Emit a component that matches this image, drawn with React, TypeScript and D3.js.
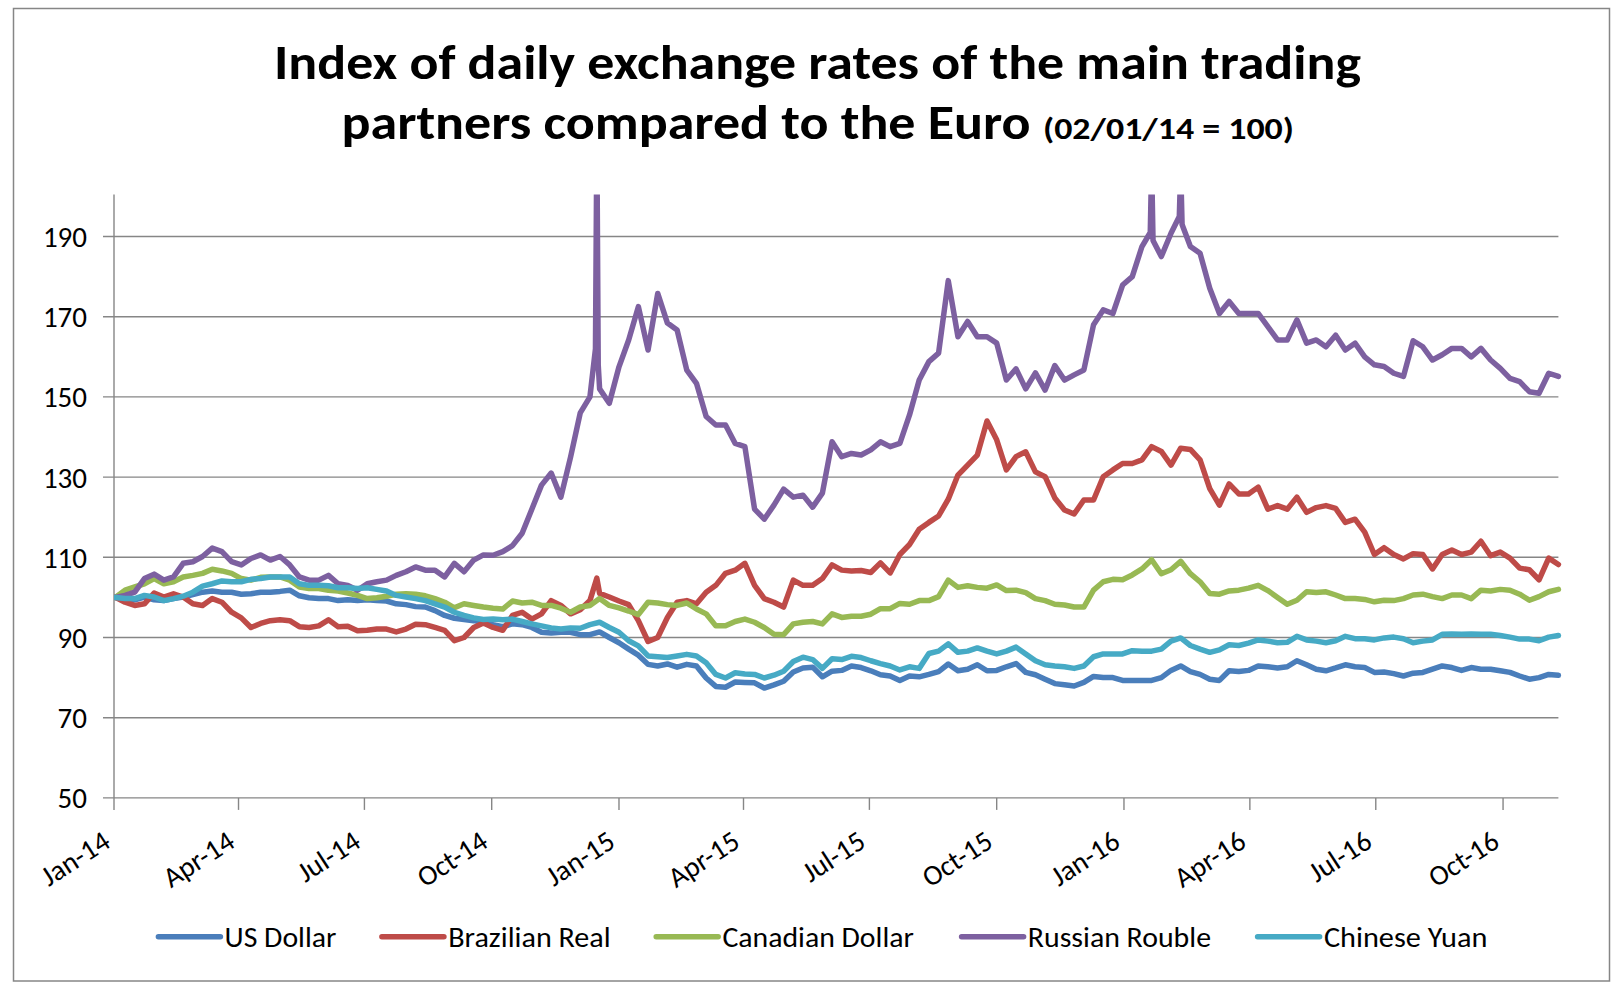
import React from "react";
import * as d3 from "d3";

// ---- data (weekly samples starting 2 Jan 2014, index 02/01/14 = 100) ----
const START_DATE = "2014-01-02";
const STEP_DAYS = 7;

const seriesNames = ["US Dollar", "Brazilian Real", "Canadian Dollar", "Russian Rouble", "Chinese Yuan"];
const seriesColors = ["#4A7EBB", "#BE4B48", "#98B954", "#7D60A0", "#46AAC5"];

const usDollar = [
  100, 99.3, 99.4, 100.1, 99.4, 99.2, 99.7, 100.1, 100.7, 101.3, 101.6, 101.3, 101.3, 100.8, 100.9, 101.3, 101.3, 101.5, 101.8, 100.4,
  99.9, 99.7, 99.7, 99.2, 99.4, 99.2, 99.4, 99.2, 99.1, 98.4, 98.2, 97.7, 97.6, 96.7, 95.5, 94.8, 94.5, 94.2, 93.8,
  93.2, 92.7, 93.4, 93.2, 92.5, 91.3, 91.1, 91.3, 91.3, 90.7, 90.7, 91.4, 90.0, 88.7, 87.1, 85.6, 83.3, 82.9, 83.4, 82.6,
  83.3, 82.9, 79.9, 77.8, 77.6, 78.9, 78.8, 78.7, 77.4, 78.2, 79.1, 81.4, 82.4, 82.6, 80.2, 81.6, 81.8, 82.9,
  82.5, 81.7, 80.7, 80.4, 79.3, 80.4, 80.2, 80.8, 81.5, 83.4, 81.7, 82.1, 83.2, 81.7, 81.8, 82.7, 83.5, 81.3, 80.7, 79.6,
  78.5, 78.2, 77.9, 78.8, 80.3, 80.0, 80.0, 79.3, 79.3, 79.3, 79.3, 80.0, 81.8, 82.9, 81.5, 80.8,
  79.6, 79.3, 81.7, 81.5, 81.8, 82.9, 82.7, 82.4, 82.7, 84.2, 83.2, 82.1, 81.7, 82.4, 83.2, 82.7, 82.5, 81.3, 81.4, 81.0,
  80.4, 81.1, 81.3, 82.1, 82.9, 82.5, 81.8, 82.5, 82.1, 82.1, 81.7, 81.3, 80.4, 79.6, 80.0, 80.8, 80.6,
];

const brazilianReal = [
  100, 98.8, 98.0, 98.4, 101.1, 100.1, 100.9, 100.1, 98.4, 98.0, 99.7, 98.8, 96.3, 94.9, 92.5, 93.5, 94.2, 94.4, 94.2, 92.7,
  92.5, 92.9, 94.4, 92.7, 92.8, 91.7, 91.8, 92.1, 92.1, 91.4, 92.1, 93.3, 93.2, 92.5, 91.8, 89.2, 90.0, 92.5, 93.6,
  92.5, 91.8, 95.5, 96.3, 94.6, 95.9, 99.2, 98.0, 95.9, 96.9, 99.2, 101.0, 100.1, 99.1, 98.2, 94.2, 89.0, 90.0, 95.0, 98.8,
  99.2, 98.4, 101.3, 103.0, 106.0, 106.8, 108.5, 103.0, 99.7, 98.8, 97.6, 104.3, 103.0, 103.0, 104.7, 108.1, 106.8, 106.6,
  106.7, 106.2, 108.6, 106.1, 110.7, 113.2, 117.0, 118.7, 120.3, 124.5, 130.5, 133.0, 135.5, 144.0, 139.3, 131.8, 135.1, 136.3,
  131.3, 130.1, 124.8, 121.8, 120.8, 124.3, 124.3, 130.1, 131.8, 133.4, 133.4, 134.3, 137.6, 136.4, 133.0, 137.2, 136.9, 134.3,
  127.1, 123.0, 128.3, 125.8, 125.8, 127.5, 122.0, 122.9, 122.0, 125.0, 121.2, 122.4, 122.9, 122.2, 118.7, 119.5, 116.3, 110.7,
  112.4, 110.7, 109.6, 110.9, 110.7, 107.1, 110.7, 111.8, 110.7, 111.3, 114.0, 110.4, 111.3, 109.8, 107.3, 106.9, 104.4, 109.8, 108.2,
];

const canadianDollar = [
  100, 101.8, 102.6, 103.4, 104.7, 103.4, 103.9, 105.1, 105.5, 106.0, 107.0, 106.6, 106.0, 104.7, 104.3, 105.0, 105.1, 105.1, 104.3, 102.6,
  102.2, 102.2, 101.8, 101.6, 101.1, 100.5, 99.7, 99.9, 100.3, 100.8, 100.9, 100.8, 100.4, 99.7, 98.8, 97.4, 98.4, 98.0, 97.6,
  97.3, 97.1, 99.1, 98.6, 98.8, 98.0, 98.0, 97.3, 96.3, 97.6, 98.0, 99.7, 98.0, 97.4, 96.6, 95.7, 98.8, 98.6, 98.2, 98.0,
  98.6, 97.1, 95.9, 92.9, 92.9, 94.0, 94.6, 93.8, 92.5, 90.8, 90.7, 93.4, 93.8, 94.0, 93.4, 95.9, 95.0, 95.3,
  95.3, 95.8, 97.2, 97.2, 98.5, 98.3, 99.2, 99.2, 100.2, 104.3, 102.5, 102.9, 102.5, 102.3, 103.1, 101.7, 101.8, 101.2, 99.7, 99.2,
  98.3, 98.1, 97.6, 97.6, 101.8, 103.9, 104.5, 104.4, 105.6, 107.1, 109.4, 105.9, 106.9, 109.0, 105.9, 103.9,
  101.0, 100.8, 101.6, 101.8, 102.3, 103.0, 101.7, 100.0, 98.3, 99.3, 101.4, 101.2, 101.4, 100.6, 99.7, 99.7, 99.5, 98.9, 99.3, 99.2,
  99.7, 100.6, 100.8, 100.2, 99.7, 100.6, 100.6, 99.7, 101.8, 101.6, 102.0, 101.8, 100.8, 99.3, 100.2, 101.4, 102.0,
];

const russianRouble = [
  100, 100.5, 101.3, 104.7, 105.8, 104.3, 105.1, 108.5, 108.9, 110.2, 112.3, 111.4, 108.9, 108.1, 109.7, 110.6, 109.3, 110.2, 108.1, 105.1,
  104.3, 104.3, 105.5, 103.4, 103.0, 101.8, 103.4, 103.9, 104.3, 105.5, 106.4, 107.6, 106.8, 106.8, 105.1, 108.5, 106.4, 109.3, 110.6,
  110.5, 111.4, 112.9, 116.0, 122.0, 128.0, 131.0, 125.0, 135.0, 146.0, 150.0, 152.0,
  148.4, 157.5, 164.2, 172.5, 161.7, 175.8, 168.4, 166.7, 156.7, 153.4, 145.1, 143.0, 143.0, 138.4, 137.6, 122.0, 119.5, 123.0, 127.0, 125.0,
  125.5, 122.5, 126.0,
  138.8, 135.1, 135.9, 135.5, 136.8, 138.8, 137.6, 138.4, 145.5, 154.2, 158.8, 160.9, 179.0, 165.0, 168.8, 165.0, 165.0, 163.4, 154.2, 157.0,
  152.0, 156.0, 151.7,
  157.8, 154.2, 155.5, 156.7, 168.0, 171.7, 170.8, 177.9, 180.0, 187.5, 208.0, 185.0, 190.8, 207.0, 187.5, 185.8, 177.1, 170.8, 173.8, 170.8,
  170.8, 170.8, 167.5, 164.2, 164.2, 169.2, 163.4, 164.2, 162.5, 165.4, 161.7, 163.4, 160.0, 158.0, 157.6, 155.9, 155.1, 164.0, 162.5, 159.2,
  160.5, 162.1, 162.1, 160.0, 162.1, 159.2, 157.1, 154.6, 153.8, 151.3, 150.9, 155.9, 155.1,
];

const chineseYuan = [
  100, 99.7, 99.7, 100.5, 100.1, 99.2, 99.7, 100.3, 101.3, 102.8, 103.4, 104.1, 103.9, 103.9, 104.5, 104.7, 105.1, 105.1, 105.1, 103.4,
  103.0, 103.0, 102.9, 102.4, 102.4, 102.2, 102.4, 102.0, 101.6, 100.5, 100.1, 99.7, 99.2, 98.4, 97.6, 96.3, 95.5, 94.9, 94.5,
  94.6, 94.4, 94.6, 94.0, 93.4, 92.9, 92.4, 92.1, 92.4, 92.3, 93.2, 93.8, 92.5, 91.3, 89.2, 87.9, 85.4, 85.2, 85.0, 85.4,
  85.8, 85.4, 83.7, 80.8, 79.9, 81.2, 80.9, 80.8, 79.9, 80.6, 81.6, 84.0, 85.1, 84.5, 82.3, 84.7, 84.5, 85.3,
  85.0, 84.2, 83.5, 82.9, 81.9, 82.7, 82.3, 86.0, 86.6, 88.4, 86.3, 86.6, 87.4, 86.6, 85.9, 86.6, 87.6, 85.9, 84.2, 83.2,
  82.9, 82.7, 82.3, 82.9, 85.2, 85.9, 85.9, 85.9, 86.7, 86.6, 86.6, 87.1, 89.1, 89.9, 88.0, 87.1,
  86.3, 86.9, 88.2, 88.0, 88.6, 89.4, 89.1, 88.7, 88.8, 90.3, 89.4, 89.1, 88.7, 89.2, 90.3, 89.7, 89.7, 89.4, 89.9, 90.1,
  89.7, 88.7, 89.1, 89.4, 90.8, 90.9, 90.8, 90.9, 90.8, 90.8, 90.5, 90.1, 89.6, 89.6, 89.2, 90.1, 90.5,
];

// extra daily readings around single-day spikes (date, value)
const russianRoubleDaily: [string, number][] = [
  ["2014-12-15", 162],
  ["2014-12-16", 215],
  ["2014-12-17", 158],
  ["2016-01-20", 191],
  ["2016-01-22", 189],
  ["2016-02-10", 195],
  ["2016-02-12", 193],
];
const brazilianRealDaily: [string, number][] = [
  ["2014-12-16", 104.8],
];
const extraDaily: [string, number][][] = [[], brazilianRealDaily, [], russianRoubleDaily, []];

const yTicks = [50, 70, 90, 110, 130, 150, 170, 190];
const xTickDates = ["2014-01-01", "2014-04-01", "2014-07-01", "2014-10-01", "2015-01-01", "2015-04-01", "2015-07-01", "2015-10-01", "2016-01-01", "2016-04-01", "2016-07-01", "2016-10-01"];
const xTickLabels = ["Jan-14", "Apr-14", "Jul-14", "Oct-14", "Jan-15", "Apr-15", "Jul-15", "Oct-15", "Jan-16", "Apr-16", "Jul-16", "Oct-16"];
const X_DOMAIN = ["2014-01-01", "2016-11-10"];

const allSeries = [usDollar, brazilianReal, canadianDollar, russianRouble, chineseYuan];

// ---- layout ----
const W = 1623;
const H = 987;
const PLOT = { left: 114, right: 1558.4, top: 196.4, bottom: 797.9 };
const FONT = "Carlito, Calibri, Lato, 'Open Sans', sans-serif";
const GRID = "#868686";

export default function App() {
  const parse = d3.utcParse("%Y-%m-%d");
  const start = parse(START_DATE) as Date;
  const x = d3
    .scaleUtc()
    .domain(X_DOMAIN.map((d) => parse(d) as Date))
    .range([PLOT.left, PLOT.right]);
  const y = d3.scaleLinear().domain([50, 200]).range([PLOT.bottom, PLOT.top]);

  const pointsFor = (i: number) => {
    const pts: { date: Date; value: number }[] = allSeries[i].map((v, k) => ({
      date: d3.utcDay.offset(start, k * STEP_DAYS),
      value: v,
    }));
    extraDaily[i].forEach(([d, v]) => pts.push({ date: parse(d) as Date, value: v }));
    pts.sort((a, b) => +a.date - +b.date);
    return pts;
  };

  const line = d3
    .line<{ date: Date; value: number }>()
    .x((d) => x(d.date))
    .y((d) => y(d.value));

  const legendItems = [
    { lx: 158.4, tx: 224.6, tw: 111.8 },
    { lx: 381.9, tx: 448.2, tw: 162.5 },
    { lx: 656.2, tx: 722.4, tw: 191.5 },
    { lx: 961.6, tx: 1027.8, tw: 183.2 },
    { lx: 1257.6, tx: 1323.9, tw: 163.5 },
  ];

  return (
    <svg
      width={W}
      height={H}
      style={{ position: "absolute", left: 0, top: 0, background: "#fff" }}
      fontFamily={FONT}
    >
      <rect x={0} y={0} width={W} height={H} fill="#fff" />
      <rect x={13.5} y={8.5} width={1596} height={972.5} fill="#fff" stroke={GRID} strokeWidth={1.5} />

      {/* title */}
      <text x={274} y={78.5} fontSize={49} fontWeight="bold" fill="#000" textLength={1087} lengthAdjust="spacingAndGlyphs">
        Index of daily exchange rates of the main trading
      </text>
      <text x={341.6} y={138.5} fontSize={49} fontWeight="bold" fill="#000" textLength={689} lengthAdjust="spacingAndGlyphs">
        partners compared to the Euro
      </text>
      <text x={1043} y={138.5} fontSize={31} fontWeight="bold" fill="#000" textLength={251} lengthAdjust="spacingAndGlyphs">
        (02/01/14 = 100)
      </text>

      {/* horizontal gridlines */}
      {yTicks.map((t) => (
        <g key={t}>
          <line x1={PLOT.left - 11} x2={PLOT.right} y1={y(t)} y2={y(t)} stroke={GRID} strokeWidth={1.4} />
          <text x={87} y={y(t)} dy="0.36em" textAnchor="end" fontSize={29} fill="#000">
            {t}
          </text>
        </g>
      ))}
      {/* y axis */}
      <line x1={PLOT.left} x2={PLOT.left} y1={PLOT.top - 2} y2={PLOT.bottom} stroke={GRID} strokeWidth={1.4} />

      {/* x ticks and labels */}
      {xTickDates.map((d, i) => {
        const xx = x(parse(d) as Date);
        return (
          <g key={d}>
            <line x1={xx} x2={xx} y1={PLOT.bottom} y2={PLOT.bottom + 12} stroke={GRID} strokeWidth={1.4} />
            <text
              transform={`translate(${xx - 2},${PLOT.bottom + 48}) rotate(-33)`}
              textAnchor="end"
              fontSize={28.5}
              fill="#000"
            >
              {xTickLabels[i]}
            </text>
          </g>
        );
      })}

      {/* series */}
      <defs>
        <clipPath id="plotClip">
          <rect x={PLOT.left} y={PLOT.top - 2} width={PLOT.right - PLOT.left + 4} height={PLOT.bottom - PLOT.top + 2} />
        </clipPath>
      </defs>
      <g clipPath="url(#plotClip)">
        {allSeries.map((_, i) => (
          <path
            key={seriesNames[i]}
            d={line(pointsFor(i)) || ""}
            fill="none"
            stroke={seriesColors[i]}
            strokeWidth={5.5}
            strokeLinejoin="round"
            strokeLinecap="round"
          />
        ))}
      </g>

      {/* legend */}
      {legendItems.map((it, i) => (
        <g key={seriesNames[i]}>
          <line x1={it.lx} x2={it.lx + 62} y1={936.7} y2={936.7} stroke={seriesColors[i]} strokeWidth={5.5} strokeLinecap="round" />
          <text x={it.tx} y={947} fontSize={29} fill="#000" textLength={it.tw} lengthAdjust="spacingAndGlyphs">
            {seriesNames[i]}
          </text>
        </g>
      ))}
    </svg>
  );
}
